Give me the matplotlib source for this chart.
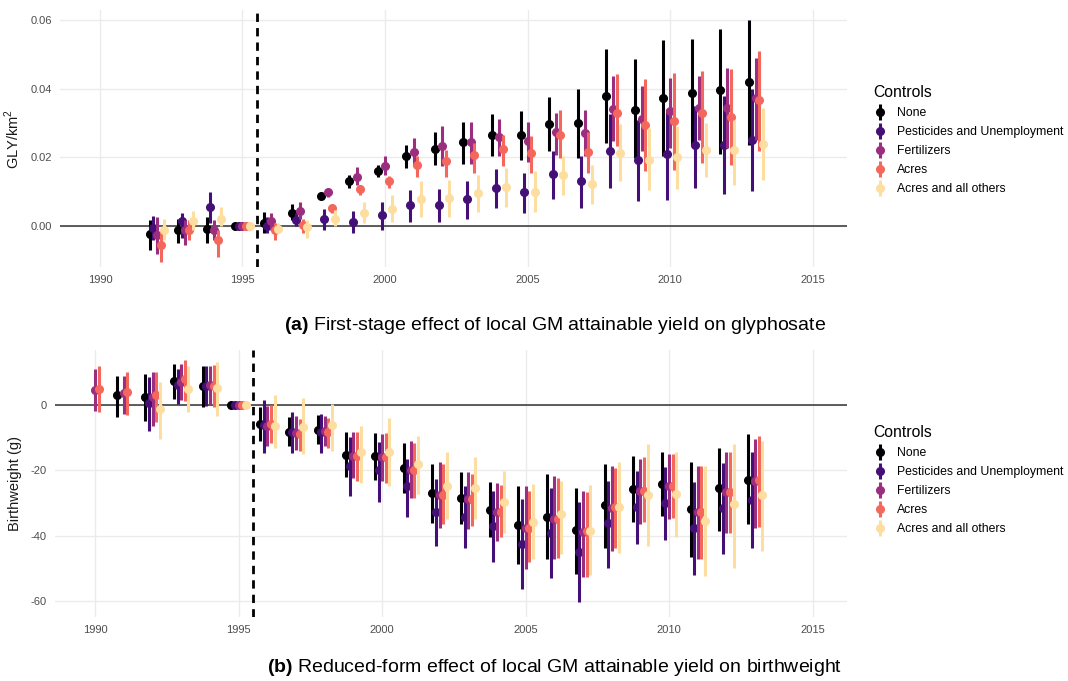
import numpy as np
import matplotlib
matplotlib.use("Agg")
import matplotlib.pyplot as plt
from matplotlib.lines import Line2D

plt.rcParams['font.family'] = ['Liberation Sans', 'DejaVu Sans']
plt.rcParams['mathtext.fontset'] = 'custom'
plt.rcParams['mathtext.rm'] = 'Liberation Sans'
plt.rcParams['mathtext.bf'] = 'Liberation Sans:bold'
plt.rcParams['axes.unicode_minus'] = False

nan = np.nan
controls = ["None", "Pesticides and Unemployment", "Fertilizers", "Acres", "Acres and all others"]

# (a) first stage: glyphosate per km2
years_a = list(range(1992, 2014))
est_a = [
    [-0.0024, -0.0010, -0.0007, 0, 0.0010, 0.0039, 0.0088, 0.0130, 0.0161, 0.0203, 0.0225, 0.0244, 0.0266, 0.0264, 0.0298, 0.0299, 0.0379, 0.0338, 0.0374, 0.0388, 0.0395, 0.0420],
    [-0.0005, 0.0015, 0.0055, 0, 0.0000, 0.0018, 0.0020, 0.0013, 0.0032, 0.0061, 0.0061, 0.0078, 0.0110, 0.0098, 0.0151, 0.0130, 0.0220, 0.0193, 0.0211, 0.0235, 0.0237, 0.0252],
    [-0.0026, -0.0012, -0.0010, 0, 0.0015, 0.0045, 0.0098, 0.0144, 0.0174, 0.0215, 0.0232, 0.0244, 0.0259, 0.0247, 0.0274, 0.0271, 0.0341, 0.0313, 0.0335, 0.0344, 0.0344, 0.0374],
    [-0.0056, -0.0010, -0.0040, 0, -0.0012, 0.0003, 0.0052, 0.0107, 0.0130, 0.0179, 0.0190, 0.0206, 0.0225, 0.0213, 0.0266, 0.0215, 0.0328, 0.0293, 0.0307, 0.0328, 0.0318, 0.0366],
    [-0.0012, 0.0015, 0.0022, 0, -0.0007, -0.0002, 0.0022, 0.0037, 0.0049, 0.0078, 0.0081, 0.0096, 0.0115, 0.0100, 0.0149, 0.0123, 0.0213, 0.0193, 0.0201, 0.0222, 0.0222, 0.0240],
]
lo_a = [
    [-0.0070, -0.0049, -0.0049, 0, -0.0021, 0.0018, 0.0079, 0.0110, 0.0144, 0.0169, 0.0179, 0.0180, 0.0205, 0.0191, 0.0218, 0.0198, 0.0242, 0.0198, 0.0203, 0.0234, 0.0211, 0.0237],
    [-0.0040, -0.0036, 0.0010, 0, -0.0020, 0.0000, -0.0012, -0.0021, -0.0012, 0.0013, 0.0013, 0.0022, 0.0052, 0.0037, 0.0079, 0.0052, 0.0110, 0.0073, 0.0076, 0.0110, 0.0094, 0.0103],
    [-0.0080, -0.0056, -0.0040, 0, -0.0012, 0.0022, 0.0086, 0.0120, 0.0149, 0.0174, 0.0174, 0.0180, 0.0203, 0.0188, 0.0208, 0.0203, 0.0247, 0.0218, 0.0227, 0.0252, 0.0227, 0.0252],
    [-0.0104, -0.0040, -0.0090, 0, -0.0040, -0.0021, 0.0037, 0.0091, 0.0110, 0.0144, 0.0144, 0.0154, 0.0174, 0.0156, 0.0198, 0.0154, 0.0232, 0.0159, 0.0164, 0.0183, 0.0179, 0.0218],
    [-0.0040, -0.0010, 0.0000, 0, -0.0020, -0.0036, 0.0000, 0.0008, 0.0013, 0.0027, 0.0027, 0.0042, 0.0057, 0.0042, 0.0091, 0.0064, 0.0130, 0.0105, 0.0107, 0.0142, 0.0120, 0.0135],
]
hi_a = [
    [0.0018, 0.0022, 0.0027, 0, 0.0042, 0.0064, 0.0096, 0.0149, 0.0179, 0.0235, 0.0273, 0.0302, 0.0325, 0.0335, 0.0377, 0.0400, 0.0515, 0.0486, 0.0542, 0.0544, 0.0574, 0.0601],
    [0.0030, 0.0037, 0.0100, 0, 0.0027, 0.0037, 0.0049, 0.0045, 0.0071, 0.0105, 0.0107, 0.0130, 0.0166, 0.0156, 0.0218, 0.0205, 0.0325, 0.0310, 0.0340, 0.0349, 0.0379, 0.0400],
    [0.0027, 0.0018, 0.0018, 0, 0.0037, 0.0069, 0.0105, 0.0172, 0.0203, 0.0257, 0.0291, 0.0302, 0.0312, 0.0304, 0.0330, 0.0337, 0.0437, 0.0408, 0.0432, 0.0437, 0.0461, 0.0488],
    [-0.0012, 0.0018, -0.0010, 0, 0.0010, 0.0022, 0.0064, 0.0120, 0.0146, 0.0203, 0.0222, 0.0242, 0.0266, 0.0261, 0.0337, 0.0273, 0.0442, 0.0427, 0.0447, 0.0452, 0.0457, 0.0510],
    [0.0020, 0.0045, 0.0055, 0, 0.0008, 0.0018, 0.0047, 0.0071, 0.0091, 0.0130, 0.0135, 0.0149, 0.0169, 0.0159, 0.0203, 0.0179, 0.0296, 0.0286, 0.0291, 0.0300, 0.0310, 0.0344],
]

# (b) reduced form: birthweight in grams
years_b = list(range(1990, 2014))
est_b = [
    [nan, 2.9, 2.3, 7.2, 5.7, 0, -5.8, -8.2, -7.5, -15.3, -15.5, -19.3, -26.9, -28.3, -32.0, -36.7, -34.1, -38.3, -30.6, -25.7, -24.0, -31.8, -25.5, -22.8],
    [nan, nan, 0.6, 6.1, 5.9, 0, -6.1, -8.4, -8.4, -18.6, -19.8, -24.9, -32.8, -34.1, -37.1, -42.5, -39.2, -44.9, -36.2, -31.3, -30.0, -37.7, -31.5, -29.0],
    [4.6, 3.6, 2.3, 6.9, 6.1, 0, -6.3, -8.6, -7.9, -15.5, -15.8, -19.8, -27.4, -28.8, -32.6, -37.7, -34.7, -38.8, -31.6, -26.2, -24.7, -32.6, -26.5, -23.2],
    [4.9, 3.9, 2.9, 8.0, 5.9, 0, -5.8, -8.9, -8.4, -15.5, -16.0, -19.8, -27.4, -28.8, -32.6, -37.7, -34.7, -38.5, -31.3, -26.2, -24.7, -32.6, -26.5, -22.8],
    [nan, nan, -1.2, 4.9, 5.1, 0, -6.3, -6.8, -6.1, -14.5, -14.5, -18.1, -24.7, -25.5, -29.8, -35.9, -33.4, -38.5, -31.3, -27.4, -27.2, -35.4, -30.3, -27.5],
]
lo_b = [
    [nan, -3.8, -4.8, 1.8, -0.5, 0, -10.9, -12.6, -11.9, -22.1, -22.8, -26.9, -36.2, -36.4, -40.5, -48.7, -47.1, -51.7, -43.6, -35.7, -33.9, -46.6, -38.5, -36.4],
    [nan, nan, -7.9, 0.3, -0.4, 0, -14.7, -14.7, -14.7, -27.7, -29.8, -34.1, -43.2, -43.6, -47.9, -56.3, -53.0, -60.2, -49.7, -42.5, -41.2, -52.0, -45.6, -43.6],
    [-1.7, -2.8, -6.3, 1.6, 0.0, 0, -12.4, -13.7, -12.4, -22.4, -23.2, -28.3, -37.7, -37.9, -41.5, -50.2, -47.1, -52.7, -44.6, -36.4, -34.9, -47.1, -39.0, -37.7],
    [-2.2, -3.1, -5.3, 1.3, -0.7, 0, -11.6, -14.0, -13.0, -23.2, -23.7, -28.3, -36.4, -36.9, -40.5, -48.1, -46.9, -52.7, -43.6, -35.9, -34.4, -47.1, -39.0, -37.4],
    [nan, nan, -10.4, -2.2, -3.5, 0, -13.3, -15.0, -14.0, -23.7, -24.7, -27.2, -34.9, -34.9, -39.0, -47.1, -45.6, -52.0, -45.1, -43.0, -40.5, -52.2, -49.7, -44.6],
]
hi_b = [
    [nan, 9.0, 9.5, 12.5, 11.8, 0, -0.7, -3.8, -3.1, -8.4, -8.6, -11.6, -18.1, -20.4, -23.5, -24.9, -21.1, -25.5, -18.1, -15.5, -14.3, -17.5, -13.0, -8.9],
    [nan, nan, 8.5, 11.0, 11.8, 0, 1.6, -2.2, -2.8, -9.9, -11.4, -16.5, -22.6, -24.7, -26.2, -28.8, -25.5, -29.6, -23.2, -20.1, -19.1, -23.5, -17.7, -14.5],
    [11.0, 9.0, 10.2, 12.5, 11.8, 0, -0.2, -3.5, -3.3, -8.4, -8.9, -10.9, -17.5, -20.4, -23.7, -24.7, -21.6, -26.2, -18.8, -16.5, -15.0, -18.6, -14.3, -10.4],
    [12.0, 10.0, 10.2, 13.6, 12.2, 0, 0.0, -4.3, -4.1, -8.2, -8.6, -11.6, -18.1, -21.1, -24.5, -26.2, -22.4, -26.7, -19.4, -16.0, -15.0, -18.6, -14.3, -9.6],
    [nan, nan, 6.9, 12.0, 13.0, 0, 2.9, 2.0, 0.3, -6.3, -4.1, -9.4, -14.5, -16.0, -20.1, -24.2, -23.2, -24.5, -17.3, -11.9, -14.5, -18.6, -11.9, -10.9],
]

colors = [plt.cm.magma(v) for v in [0.0, 0.22, 0.44, 0.68, 0.93]]
GRID = "#EBEBEB"
TXT = "#4D4D4D"


def draw_panel(ax, years, est, lo, hi):
    years = np.array(years, dtype=float)
    for k in range(len(controls)):
        x = years + (k - 2) * 0.125
        e = np.array(est[k])
        ax.vlines(x, lo[k], hi[k], color=colors[k], lw=2.2, zorder=3 + k)
        ax.plot(x, e, "o", color=colors[k], ms=5.5, zorder=3 + k)
    ax.axhline(0, color="#333333", lw=1.1, zorder=2)
    ax.axvline(1995.5, color="black", lw=2, ls=(0, (3, 2.2)), zorder=10)
    ax.set_xlim(1988.6, 2016.2)
    ax.set_xticks([1990, 1995, 2000, 2005, 2010, 2015])
    ax.grid(True, color=GRID, lw=1)
    ax.set_axisbelow(True)
    for s in ax.spines.values():
        s.set_visible(False)
    ax.tick_params(length=0, labelsize=8, labelcolor=TXT, pad=6)


fig = plt.figure(figsize=(10.68, 6.81), dpi=100)
ax1 = fig.add_axes([60 / 1068, 1 - 267 / 681, 787 / 1068, 257 / 681])
ax2 = fig.add_axes([55 / 1068, 1 - 617 / 681, 792 / 1068, 267 / 681])

draw_panel(ax1, years_a, est_a, lo_a, hi_a)
ax1.set_ylim(-0.0119, 0.0629)
ax1.set_yticks([0.0, 0.02, 0.04, 0.06])
ax1.set_yticklabels(["0.00", "0.02", "0.04", "0.06"])
ax1.set_ylabel("GLY/km$^2$", fontsize=10.5, color="#1A1A1A", labelpad=6)

draw_panel(ax2, years_b, est_b, lo_b, hi_b)
ax2.set_ylim(-64.8, 16.8)
ax2.set_yticks([-60, -40, -20, 0])
ax2.set_ylabel("Birthweight (g)", fontsize=10.5, color="#1A1A1A", labelpad=6)

handles = []
for c in colors:
    handles.append((Line2D([], [], color=c, marker="|", ms=12, mew=2.2, ls="None"),
                    Line2D([], [], color=c, marker="o", ms=5.5, ls="None")))

for ytop in [74 / 681, 414 / 681]:
    leg = fig.legend(handles, controls, loc="upper left", bbox_to_anchor=(862 / 1068, 1 - ytop),
                     frameon=False, title="Controls", fontsize=8.8, title_fontsize=11.3,
                     labelspacing=0.58, handlelength=1.2, handletextpad=0.8, alignment="left")

fig.text(555 / 1068, 1 - 326 / 681,
         r"$\bf{(a)}$ First-stage effect of local GM attainable yield on glyphosate",
         ha="center", va="center", fontsize=14)
fig.text(555 / 1068, 1 - 668 / 681,
         r"$\bf{(b)}$ Reduced-form effect of local GM attainable yield on birthweight",
         ha="center", va="center", fontsize=14)

fig.savefig("out.png", dpi=100)
